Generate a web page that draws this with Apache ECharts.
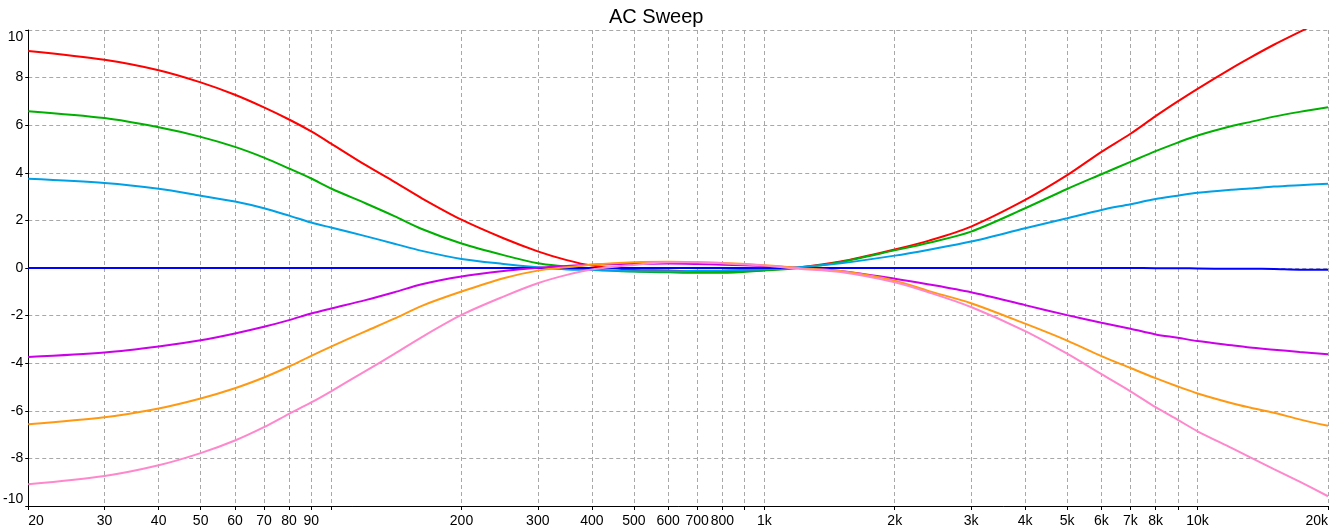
<!DOCTYPE html>
<html>
<head>
<meta charset="utf-8">
<script src="https://cdn.jsdelivr.net/npm/echarts@6.0.0/dist/echarts.min.js"></script>
<style>
html,body{margin:0;padding:0;background:#fff;}
#chart{width:1331px;height:529px;}
</style>
</head>
<body>
<div id="chart"></div>
<script>
// Frequencies (Hz) at which values were read
const freqs = [20,30,40,50,60,70,80,90,100,120,140,162,200,250,300,350,400,500,600,700,800,1000,1200,1500,2000,2400,3000,4000,5000,6000,7000,8000,9000,10000,12000,13200,15000,17200,20000];

const redVals    = [9.12,8.75,8.31,7.80,7.28,6.75,6.24,5.74,5.23,4.33,3.62,2.93,2.03,1.25,0.70,0.33,0.10,-0.08,-0.10,-0.15,-0.15,-0.08,0.02,0.27,0.78,1.15,1.74,2.86,3.90,4.88,5.64,6.38,7.00,7.53,8.40,8.83,9.38,9.92,10.50];
const greenVals  = [6.59,6.30,5.91,5.51,5.09,4.64,4.18,3.76,3.34,2.72,2.18,1.64,1.03,0.54,0.20,0.06,-0.06,-0.15,-0.18,-0.20,-0.20,-0.10,0.00,0.25,0.74,1.06,1.53,2.51,3.32,3.94,4.46,4.91,5.27,5.57,5.97,6.13,6.36,6.56,6.75];
const cyanVals   = [3.75,3.57,3.33,3.04,2.79,2.51,2.20,1.91,1.70,1.34,1.02,0.72,0.38,0.17,0.03,-0.06,-0.08,-0.14,-0.14,-0.12,-0.10,-0.05,0.03,0.20,0.52,0.77,1.11,1.67,2.09,2.44,2.68,2.90,3.04,3.16,3.29,3.34,3.42,3.48,3.54];
const blueVals   = [0,0,0,0,0,0,0,0,0,0,0,0,0,0,0,0,0,0,0,0,0,0,0,0,0,0,0,0,0,0,0,-0.01,-0.01,-0.02,-0.03,-0.03,-0.04,-0.07,-0.07];
const purpleVals = [-3.74,-3.55,-3.30,-3.04,-2.75,-2.47,-2.19,-1.91,-1.70,-1.35,-1.02,-0.68,-0.36,-0.13,0.01,0.08,0.14,0.17,0.19,0.17,0.14,0.08,0.00,-0.13,-0.45,-0.69,-1.02,-1.56,-1.98,-2.30,-2.55,-2.79,-2.93,-3.07,-3.25,-3.34,-3.43,-3.53,-3.62];
const orangeVals = [-6.56,-6.27,-5.90,-5.48,-5.05,-4.60,-4.14,-3.69,-3.30,-2.66,-2.13,-1.59,-0.99,-0.43,-0.11,0.03,0.14,0.24,0.26,0.24,0.21,0.12,0.00,-0.13,-0.53,-0.97,-1.48,-2.34,-3.05,-3.70,-4.20,-4.63,-4.98,-5.27,-5.68,-5.86,-6.08,-6.36,-6.63];
const pinkVals   = [-9.09,-8.74,-8.29,-7.78,-7.25,-6.69,-6.13,-5.65,-5.18,-4.33,-3.61,-2.90,-1.97,-1.20,-0.64,-0.29,-0.06,0.13,0.24,0.24,0.20,0.10,-0.03,-0.17,-0.60,-1.03,-1.64,-2.65,-3.60,-4.46,-5.18,-5.85,-6.38,-6.86,-7.57,-7.95,-8.45,-8.98,-9.59];

// Axis ticks / labels
const tickFreqs  = [20,30,40,50,60,70,80,90,100,200,300,400,500,600,700,800,900,1000,2000,3000,4000,5000,6000,7000,8000,9000,10000,20000];
const labelFreqs = [20,30,40,50,60,70,80,90,200,300,400,500,600,700,800,1000,2000,3000,4000,5000,6000,7000,8000,10000,20000];

const seriesDefs = [
  {name:'red',    vals:redVals,    color:'#ff0000'},
  {name:'green',  vals:greenVals,  color:'#00b000'},
  {name:'cyan',   vals:cyanVals,   color:'#00a0e6'},
  {name:'blue',   vals:blueVals,   color:'#0000ff'},
  {name:'purple', vals:purpleVals, color:'#cc00e8'},
  {name:'orange', vals:orangeVals, color:'#ff9914'},
  {name:'pink',   vals:pinkVals,   color:'#ff88cc'}
];

const lg = f => Math.log10(f);
const fmt = v => {
  const f = Math.round(Math.pow(10, v));
  return f >= 1000 ? (Math.round(f/100)/10) + 'k' : String(f);
};
const FONT = '"Liberation Sans Narrow","Arial Narrow","Liberation Sans",sans-serif';
const gridLine = {show:true, lineStyle:{color:'#a8a8a8', type:[4,3], width:1}};

const chart = echarts.init(document.getElementById('chart'), null, {renderer:'canvas'});
chart.setOption({
  animation:false,
  backgroundColor:'#ffffff',
  title:{
    text:'AC Sweep', left:604, top:2,
    textStyle:{fontSize:20, fontWeight:'normal', color:'#000', fontFamily:'"Liberation Sans",Arial,sans-serif'}
  },
  grid:{left:26, right:3, top:30, bottom:23, containLabel:false},
  xAxis:{
    type:'value', min:lg(20), max:lg(20000),
    axisLine:{show:true, onZero:false, lineStyle:{color:'#000', width:1}},
    axisTick:{show:true, length:4, lineStyle:{color:'#000'}, customValues:tickFreqs.map(lg)},
    axisLabel:{show:true, customValues:labelFreqs.map(lg), formatter:fmt, color:'#000',
      fontSize:14, fontFamily:FONT, margin:8, alignMinLabel:'left', alignMaxLabel:'right'},
    splitLine:gridLine
  },
  yAxis:{
    type:'value', min:-10, max:10, interval:2,
    axisLine:{show:true, onZero:false, lineStyle:{color:'#000', width:1}},
    axisTick:{show:true, length:3, lineStyle:{color:'#000'}},
    axisLabel:{show:true, color:'#000', fontSize:14, fontFamily:FONT, margin:5,
      verticalAlignMaxLabel:'top', verticalAlignMinLabel:'bottom'},
    splitLine:gridLine
  },
  series: seriesDefs.map(s => ({
    name:s.name, type:'line', showSymbol:false, smooth:0.3, clip:true,
    lineStyle:{color:s.color, width:2}, itemStyle:{color:s.color},
    data: freqs.map((f,i) => [lg(f), s.vals[i]])
  }))
});
</script>
</body>
</html>
